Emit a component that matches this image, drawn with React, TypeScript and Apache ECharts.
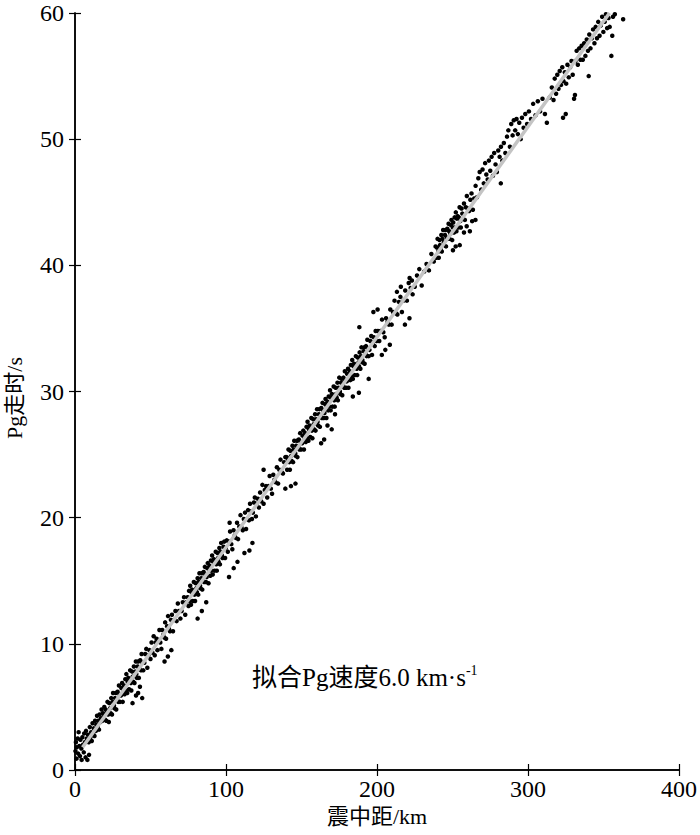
import React, { useEffect, useRef } from "react";
import * as echarts from "echarts";

const xTicks = [0, 100, 200, 300, 400];
const yTicks = [0, 10, 20, 30, 40, 50, 60];
const fitLine: number[][] = [[5, 1.8], [354, 60]];
const xTitle = "震中距/km";
const yTitle = "Pg走时/s";

const pts0to20: number[][] = [
  [0.3,1.5],[0.6,2.2],[1.0,0.9],[1.2,1.8],[1.8,2.5],[2.1,1.3],[2.4,3.0],[2.9,1.9],[3.3,1.1],[3.6,2.4],[4.2,1.7],[4.4,0.8],[4.9,2.6],[5.3,2.0],[5.8,1.4],[6.1,2.9],[6.6,2.2],[7.0,1.0],[7.3,3.1],[7.8,2.5],[8.2,0.8],[8.6,2.8],[9.1,2.2],[9.3,1.2],[9.8,3.4],[10.2,2.6],[10.7,3.0],[11.1,2.3],[11.6,3.7],[12.0,2.9],[12.4,3.3],[12.9,2.7],[13.3,3.9],[13.8,3.1],[14.1,3.6],[14.6,4.3],[15.0,3.4],[15.4,3.9],[15.9,3.2],[16.3,4.4],[16.8,3.8],[17.2,4.1],[17.6,4.8],[18.1,3.9],[18.5,4.5],[19.0,4.2],[19.4,5.0],[19.8,4.0],
];
const pts20to50: number[][] = [
  [20.3,4.8],[20.7,3.9],[21.2,4.6],[21.5,5.4],[22.0,4.4],[22.4,3.8],[22.7,5.3],[23.3,4.9],[23.6,4.5],[24.0,5.7],[24.5,4.4],[24.9,5.4],[25.2,6.1],[25.8,5.1],[26.1,4.9],[26.5,5.7],[27.0,6.1],[27.3,4.8],[27.9,5.6],[28.2,6.2],[28.6,5.4],[29.1,6.7],[29.5,6.0],[29.8,5.4],[30.4,5.9],[30.7,6.5],[31.2,6.9],[31.6,5.4],[32.0,6.3],[32.5,6.7],[32.8,6.0],[33.3,7.2],[33.7,6.3],[34.0,7.6],[34.6,6.1],[34.9,7.0],[35.3,7.3],[35.8,6.4],[36.1,7.1],[36.5,7.9],[37.0,6.9],[37.3,6.3],[37.8,7.8],[38.2,7.4],[38.5,7.0],[39.0,8.2],[39.4,6.9],[39.8,7.8],[40.3,8.6],[40.6,7.6],[41.0,7.3],[41.5,8.2],[41.9,8.6],[42.3,7.3],[42.8,8.0],[43.2,8.7],[43.7,7.9],[44.1,9.2],[44.6,8.5],[45.2,7.9],[45.9,8.5],[46.5,9.2],[47.2,9.6],[47.9,8.1],[48.6,9.1],[49.3,9.5],
  [38.1,5.3],[40.4,5.9],[41.8,6.1],[43.0,6.6],[44.5,5.7],
];
const pts50to75: number[][] = [
  [50.0,8.8],[50.7,10.1],[51.3,9.3],[52.1,10.6],[52.8,9.1],[53.4,10.1],[54.0,10.4],[54.6,9.5],[55.3,10.3],[55.9,11.1],[56.5,10.1],[57.2,9.6],[57.8,11.1],[58.4,10.7],[59.1,10.5],[59.7,11.7],[60.3,10.4],[61.0,11.4],[61.6,12.2],[62.2,11.2],[62.9,11.0],[63.5,11.9],[64.2,12.3],[64.9,11.0],[65.7,11.9],[66.5,12.6],[67.3,11.8],[68.1,13.2],[68.9,12.6],[69.8,12.0],[70.6,12.6],[71.4,13.3],[72.2,13.7],[73.0,12.3],[73.8,13.3],[74.6,13.7],
  [59.3,8.6],[61.5,9.0],[63.8,9.5],
];
const pts75to100: number[][] = [
  [75.2,13.0],[75.5,14.2],[75.9,13.4],[76.3,14.6],[76.8,13.1],[77.1,14.1],[77.5,14.3],[78.0,13.4],[78.3,14.2],[78.7,14.9],[79.2,13.9],[79.5,13.4],[80.0,14.8],[80.4,14.4],[80.7,14.1],[81.2,15.2],[81.6,13.9],[81.9,14.9],[82.4,15.6],[82.8,14.6],[83.1,14.4],[83.6,15.2],[84.0,15.6],[84.3,14.3],[84.8,15.0],[85.2,15.7],[85.5,14.9],[86.0,16.1],[86.4,15.5],[86.7,14.9],[87.2,15.3],[87.6,16.0],[87.9,16.4],[88.4,14.8],[88.8,15.8],[89.1,16.2],[89.6,15.4],[90.0,16.6],[90.3,15.8],[90.8,17.0],[91.2,15.5],[91.5,16.5],[92.0,16.7],[92.4,15.8],[92.7,16.6],[93.2,17.3],[93.6,16.3],[93.9,15.8],[94.4,17.2],[94.8,16.8],[95.1,16.5],[95.6,17.6],[96.0,16.3],[96.3,17.3],[96.8,18.0],[97.3,17.0],[97.7,16.8],[98.3,17.7],[98.8,18.1],[99.4,16.8],[99.9,17.6],
  [81.2,12.0],[84.0,12.6],[86.9,13.3],
];
const pts100to140: number[][] = [
  [100.5,18.2],[101.2,17.3],[102.0,18.1],[102.7,18.9],[103.5,17.9],[104.2,17.5],[105.0,19.0],[105.8,18.6],[106.5,18.4],[107.3,19.6],[108.0,18.3],[108.8,19.3],[109.6,20.2],[110.3,19.2],[111.1,19.0],[111.8,19.9],[112.6,20.4],[113.3,19.1],[114.0,19.9],[114.6,20.6],[115.2,19.8],[115.9,21.1],[116.5,20.5],[117.2,19.9],[117.8,20.4],[118.5,21.2],[119.1,21.6],[119.8,20.1],[120.4,21.1],[121.1,21.5],[121.8,20.8],[122.6,22.0],[123.3,21.3],[124.1,22.6],[124.9,21.1],[125.7,22.2],[126.5,22.5],[127.3,21.6],[128.1,22.5],[128.9,23.3],[129.7,22.3],[130.5,21.9],[131.3,23.4],[132.1,23.0],[132.9,22.8],[133.7,24.0],[134.5,22.7],[135.3,23.8],[136.1,24.6],[136.9,23.6],[137.7,23.5],[138.5,24.4],[139.3,24.8],
  [102.0,15.3],[105.1,16.0],[107.6,16.5],[112.2,17.2],[115.5,17.4],[117.5,18.0],[102.4,19.6],[124.9,23.8],[139.3,22.3],
];
const pts140to200: number[][] = [
  [140.2,24.8],[140.5,23.8],[141.1,24.6],[141.4,25.4],[141.9,24.4],[142.3,23.8],[142.6,25.3],[143.2,24.9],[143.5,24.5],[144.0,25.7],[144.4,24.4],[144.9,25.4],[145.2,26.1],[145.8,25.1],[146.1,24.9],[146.5,25.7],[147.0,26.1],[147.3,24.8],[147.9,25.6],[148.2,26.2],[148.6,25.4],[149.1,26.7],[149.5,26.0],[149.8,25.4],[150.4,25.9],[150.7,26.5],[151.2,26.9],[151.6,25.4],[152.0,26.3],[152.5,26.7],[152.8,26.0],[153.3,27.2],[153.7,26.3],[154.0,27.6],[154.6,26.1],[154.9,27.0],
  [155.3,27.3],[155.8,26.4],[156.0,27.1],[156.5,27.9],[156.9,26.9],[157.2,26.3],[157.8,27.8],[158.1,27.4],[158.4,27.0],[159.0,28.2],[159.3,26.9],[159.7,27.8],[160.3,28.6],[160.6,27.6],[161.0,27.3],[161.5,28.2],[161.8,28.6],[162.2,27.2],[162.8,28.0],[163.1,28.7],[163.5,27.9],[163.9,29.1],[164.4,28.5],[164.7,27.9],[165.2,28.3],[165.6,29.0],[165.9,29.4],[166.5,27.9],[166.8,28.8],[167.2,29.2],[167.7,28.5],[168.0,29.6],[168.4,28.8],[168.9,30.1],[169.3,28.5],[169.6,29.5],
  [170.1,29.8],[170.5,28.8],[170.8,29.6],[171.3,30.4],[171.7,29.3],[172.0,28.8],[172.6,30.3],[172.9,29.8],[173.3,29.5],[173.8,30.7],[174.1,29.3],[174.5,30.3],[175.0,31.1],[175.4,30.0],[175.7,29.8],[176.2,30.7],[176.6,31.0],[177.0,29.7],[177.5,30.5],[177.8,31.1],[178.3,30.3],[178.7,31.6],[179.0,30.9],[179.5,30.3],[179.9,30.8],[180.2,31.4],[180.8,31.8],[181.1,30.3],[181.5,31.3],[182.0,31.6],[182.3,30.9],[182.7,32.1],[183.2,31.2],[183.6,32.5],[184.0,31.0],[184.5,32.0],
  [184.8,32.2],[185.3,31.3],[185.7,32.1],[186.0,32.8],[186.6,31.8],[186.9,31.3],[187.3,32.7],[187.8,32.3],[188.1,32.0],[188.5,33.1],[189.0,31.8],[189.4,32.8],[189.7,33.5],[190.3,32.5],[190.6,32.3],[191.1,33.2],[191.5,33.5],[191.8,32.2],[192.4,33.0],[192.7,33.6],[193.2,32.8],[193.6,34.1],[194.0,33.4],[194.5,32.8],[195.0,33.3],[195.6,34.0],[196.2,34.4],[196.7,32.9],[197.3,33.9],[197.9,34.3],[198.5,33.6],[199.1,34.8],[199.7,34.0],
  [163.0,25.9],[165.0,26.2],[167.2,27.3],[170.0,27.0],[172.2,28.2],[184.0,29.6],[188.0,29.9],[194.5,31.0],[188.3,35.1],[197.6,36.3],[200.4,36.5],[143.0,22.5],[146.0,22.7],
];
const pts200to240: number[][] = [
  [200.6,34.8],[201.5,34.0],[202.4,34.8],[203.3,35.7],[204.2,34.7],[205.1,34.3],[206.0,35.8],[207.0,35.5],[207.9,35.3],[208.8,36.5],[209.7,35.3],[210.6,36.3],[211.6,37.2],[212.5,36.2],[213.5,36.1],[214.5,37.1],[215.5,37.5],[216.5,36.3],[217.6,37.2],[218.7,38.0],[219.8,37.2],[221.0,38.6],[222.3,38.2],[223.6,37.7],[225.0,38.3],[226.5,39.2],[228.0,39.7],[229.6,38.4],[231.2,39.5],[232.8,40.1],[234.4,39.6],[236.0,40.9],[237.6,40.3],
  [203.2,32.9],[205.5,33.3],[208.5,33.7],[218.5,35.3],[221.5,35.8],[213.2,37.9],[215.8,38.3],[221.6,39.0],[223.1,38.8],
];
const pts240to265: number[][] = [
  [238.8,41.5],[239.3,40.6],[239.7,41.4],[240.1,42.1],[240.6,41.1],[240.9,40.6],[241.4,42.0],[241.7,41.6],[242.1,41.3],[242.6,42.4],[242.9,41.1],[243.3,42.1],[243.8,42.8],[244.2,41.8],[244.5,41.6],[245.0,42.4],[245.4,42.8],[245.7,41.5],[246.2,42.2],[246.6,42.9],[246.9,42.1],[247.4,43.3],[247.8,42.7],[248.1,42.1],[248.6,42.5],[249.0,43.2],[249.3,43.6],[249.8,42.0],[250.2,43.0],[250.5,43.4],[251.0,42.6],[251.4,43.8],[251.7,43.0],[252.2,44.2],[252.6,42.7],[252.9,43.7],[253.4,43.9],[253.8,43.0],[254.2,43.8],[254.7,44.6],[255.1,43.5],[255.5,43.0],[256.0,44.5],[256.5,44.1],[257.0,43.7],[257.6,44.9],[258.2,43.6],[258.8,44.6],[259.5,45.5],[260.2,44.5],[261.0,44.3],[261.8,45.2],[262.6,45.7],[263.5,44.4],[264.4,45.3],
  [250.3,41.2],[252.1,41.5],[254.8,41.6],[257.6,42.6],[259.4,43.1],[261.5,42.7],[263.0,43.5],[265.2,43.6],
];
const pts265to300: number[][] = [
  [265.3,46.3],[266.2,45.4],[267.1,46.9],[268.0,47.4],[269.0,46.0],[269.9,47.6],[270.7,46.5],[271.6,48.1],[272.4,47.2],[273.3,46.8],[274.1,48.3],[275.0,47.5],[275.9,48.6],[276.8,47.1],[277.6,48.9],[278.5,48.0],[279.4,47.4],[280.3,49.1],[281.2,48.6],[282.1,49.4],[283.0,48.3],[284.0,49.7],[285.0,48.9],[286.1,50.2],[287.0,50.7],[288.0,49.4],[288.9,51.2],[289.8,50.3],[290.6,51.5],[291.5,50.7],[292.4,51.6],[293.3,50.4],[294.2,51.3],[295.1,50.0],[296.0,51.7],[297.1,50.9],[298.2,52.0],[299.4,51.2],
  [282.0,46.5],
];
const pts300to365: number[][] = [
  [300.6,52.2],[302.0,51.6],[303.4,52.8],[305.0,51.9],[306.5,53.0],[308.0,52.2],[309.6,53.2],[311.2,52.0],[312.5,51.3],[314.4,53.3],[315.8,54.1],[316.9,53.1],[317.7,54.8],[318.6,53.6],[319.4,55.1],[320.2,54.0],[321.0,55.4],[321.9,54.3],[322.7,55.7],[323.2,51.7],[323.5,54.6],[324.4,55.3],[325.0,52.0],[325.3,54.4],[326.1,55.9],[327.0,54.9],[327.9,55.7],[328.8,56.2],[329.6,55.1],[330.5,53.2],[331.1,53.5],[331.4,56.2],[332.2,57.0],[333.0,55.9],[333.9,57.2],[334.7,56.3],[335.5,57.4],[336.3,56.3],[337.2,57.6],[338.0,56.6],[338.9,57.9],[339.7,57.0],[340.2,55.0],[340.6,58.3],[341.4,57.2],[342.3,58.0],[343.1,58.7],[344.0,57.6],[344.8,58.9],[345.7,58.0],[346.5,59.3],[347.4,58.2],[348.2,59.0],[349.1,59.7],[349.9,58.5],[350.8,59.3],[351.6,59.9],[352.4,58.8],[353.3,59.6],[354.1,58.9],[355.2,56.6],[355.8,58.2],[356.3,59.7],[357.5,59.9],[363.0,59.5],
];

const scatterPoints = [
  ...pts0to20, ...pts20to50, ...pts50to75, ...pts75to100, ...pts100to140,
  ...pts140to200, ...pts200to240, ...pts240to265, ...pts265to300, ...pts300to365,
];

const FONT = "'Liberation Serif', 'Noto Sans CJK SC', serif";

export default function App() {
  const ref = useRef<HTMLDivElement>(null);
  useEffect(() => {
    if (!ref.current) return;
    const chart = echarts.init(ref.current, undefined, { renderer: "svg" });
    const axisCommon = {
      type: "value" as const,
      axisLine: { show: true, lineStyle: { color: "#000", width: 1.5 } },
      axisTick: { show: true, inside: true, length: 6, lineStyle: { color: "#000", width: 1.2 } },
      splitLine: { show: false },
    };
    chart.setOption({
      animation: false,
      backgroundColor: "#fff",
      grid: { left: 75, right: 19, top: 13, bottom: 65, containLabel: false },
      xAxis: [
        {
          ...axisCommon,
          position: "bottom",
          min: xTicks[0],
          max: xTicks[xTicks.length - 1],
          interval: 100,
          name: xTitle,
          nameLocation: "middle",
          nameGap: 33,
          nameTextStyle: { fontFamily: FONT, fontSize: 22, color: "#000" },
          axisLabel: { fontFamily: FONT, fontSize: 24, color: "#000", margin: 7 },
        },
        {
          ...axisCommon,
          position: "top",
          min: xTicks[0],
          max: xTicks[xTicks.length - 1],
          interval: 100,
          axisLabel: { show: false },
        },
      ],
      yAxis: [
        {
          ...axisCommon,
          position: "left",
          min: yTicks[0],
          max: yTicks[yTicks.length - 1],
          interval: 10,
          axisLabel: { fontFamily: FONT, fontSize: 24, color: "#000", margin: 11 },
        },
        {
          ...axisCommon,
          position: "right",
          min: yTicks[0],
          max: yTicks[yTicks.length - 1],
          interval: 10,
          axisLabel: { show: false },
        },
      ],
      series: [
        {
          type: "scatter",
          data: scatterPoints,
          symbol: "circle",
          symbolSize: 4.5,
          itemStyle: { color: "#000", opacity: 1 },
          z: 2,
        },
        {
          type: "line",
          data: fitLine,
          showSymbol: false,
          symbol: "none",
          lineStyle: { color: "#c4c4c4", width: 3.5 },
          z: 3,
        },
      ],
      graphic: [
        {
          type: "text",
          x: 14,
          y: 398,
          rotation: Math.PI / 2,
          style: {
            text: yTitle,
            fontFamily: FONT,
            fontSize: 22,
            fill: "#000",
            align: "center",
            verticalAlign: "middle",
          },
        },
        {
          type: "text",
          left: 252,
          top: 663,
          style: {
            text: "{a|拟合Pg速度6.0 km·s}{b|-1}",
            rich: {
              a: { fontFamily: FONT, fontSize: 25, fill: "#000", lineHeight: 28 },
              b: { fontFamily: FONT, fontSize: 14, fill: "#000", verticalAlign: "top", lineHeight: 28, padding: [0, 0, 10, 0] },
            },
          },
        },
      ],
    });
    return () => chart.dispose();
  }, []);
  return (
    <div
      ref={ref}
      style={{ position: "fixed", left: 0, top: 0, width: 700, height: 835, background: "#fff" }}
    />
  );
}
